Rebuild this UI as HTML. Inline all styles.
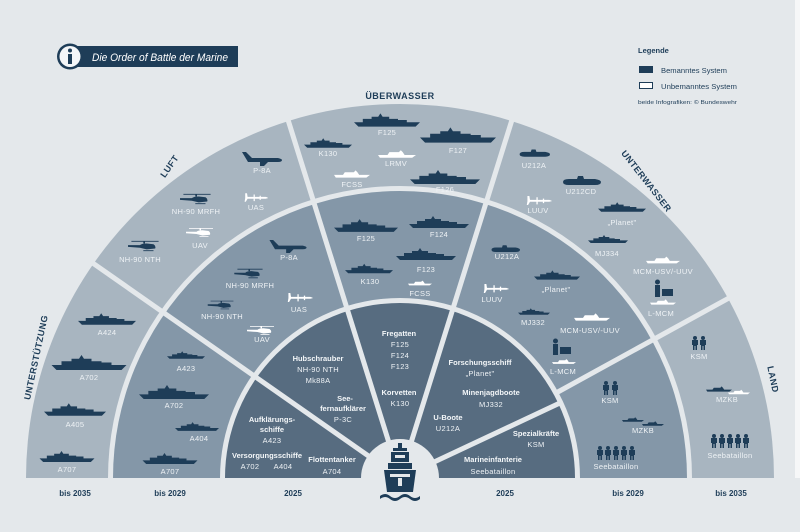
<!DOCTYPE html>
<html><head><meta charset="utf-8"><style>
html,body{margin:0;padding:0;background:#e4e8eb;overflow:hidden;width:800px;height:532px;}
svg{display:block;}
text{font-family:"Liberation Sans",sans-serif;}
.w{fill:#eef2f5;font-size:7.5px;text-anchor:middle;letter-spacing:0.3px;}
.b{fill:#f3f6f8;font-size:7.5px;font-weight:bold;text-anchor:middle;}
.h{fill:#1e3d58;font-size:9px;font-weight:bold;text-anchor:middle;letter-spacing:0.5px;}
.y{fill:#1e3d58;font-size:8px;font-weight:bold;text-anchor:middle;}
</style></head><body>
<svg width="800" height="532" viewBox="0 0 800 532" xmlns="http://www.w3.org/2000/svg" style="position:absolute;left:0;top:0;overflow:hidden">
<defs>
<symbol id="ship" viewBox="0 0 60 12"><path d="M0 8L60 8L56 12L4 12Z M8 8L8 5L16 5L16 3L22 3L24 0L26 3L32 3L32 5L40 5L40 6L48 6L48 8Z"/></symbol>
<symbol id="sub" viewBox="0 0 40 10"><path d="M2 6Q2 3 8 3L16 3L17 0L22 0L23 3L34 3Q40 4 40 6Q40 9 34 9L8 9Q2 9 2 6Z"/></symbol>
<symbol id="plane" viewBox="0 0 40 14"><path d="M0 0L4 0L10 6L36 6Q40 7 40 8Q40 10 36 10L6 10Z M18 10L26 10L22 14L18 14Z"/></symbol>
<symbol id="heli" viewBox="0 0 40 14"><path d="M4 1L36 1L36 2L4 2Z M18 2L20 2L20 4L18 4Z M0 6L14 6Q16 4 22 4L30 5Q33 7 32 10L22 11L14 9L0 8Z M18 12L30 12L30 13L18 13Z"/></symbol>
<symbol id="uas" viewBox="0 0 40 14"><path d="M2 0L5 0L6 6L36 6Q40 7 40 8L36 9L6 9L3 14L1 14L2 8Z M16 2L18 2L18 13L16 13Z M26 4L28 4L28 11L26 11Z"/></symbol>
<symbol id="sold" viewBox="0 0 6 14"><circle cx="3" cy="2" r="2"/><path d="M0 4L6 4L6 9L5 9L5 14L3.5 14L3.5 10L2.5 10L2.5 14L1 14L1 9L0 9Z"/></symbol>
<symbol id="boat" viewBox="0 0 40 8"><path d="M0 5L40 5L36 8L2 8Z M10 5L12 2L22 2L24 0L26 2L28 5Z"/></symbol>
</defs>
<rect width="800" height="532" fill="#e4e8eb"/>
<rect x="795" y="0" width="5" height="532" fill="#f6f7f8"/>
<circle cx="400" cy="478" r="374" fill="#a8b5c0"/>
<circle cx="400" cy="478" r="292" fill="#e4e8eb"/>
<circle cx="400" cy="478" r="287" fill="#8497a8"/>
<circle cx="400" cy="478" r="180" fill="#e4e8eb"/>
<circle cx="400" cy="478" r="175" fill="#576c80"/>
<circle cx="400" cy="478" r="39" fill="#e4e8eb"/>
<g stroke="#e4e8eb" stroke-width="5">
<line x1="400" y1="478" x2="-6" y2="194"/>
<line x1="400" y1="478" x2="279" y2="91"/>
<line x1="400" y1="478" x2="521" y2="91"/>
<line x1="556" y1="393" x2="780" y2="270"/>
<line x1="400" y1="478" x2="562" y2="402"/>
</g>
<rect x="0" y="478" width="800" height="54" fill="#e4e8eb"/>
<g fill="#1e3d58">
<rect x="398" y="443" width="4" height="8"/><rect x="393" y="448" width="14" height="3"/>
<rect x="391" y="452" width="18" height="10"/><rect x="388" y="463" width="24" height="6"/>
<path d="M384 470L416 470L413 492L387 492Z"/>
<path d="M380 496Q385 492 390 496Q395 500 400 496Q405 492 410 496Q415 500 420 496L420 499Q415 503 410 499Q405 495 400 499Q395 503 390 499Q385 495 380 499Z"/>
</g>
<g fill="#e4e8eb"><rect x="395" y="455" width="10" height="3"/><rect x="390" y="474" width="20" height="3"/><rect x="398" y="478" width="4" height="8"/></g>
<text class="y" x="75" y="496">bis 2035</text>
<text class="y" x="170" y="496">bis 2029</text>
<text class="y" x="293" y="496">2025</text>
<text class="y" x="505" y="496">2025</text>
<text class="y" x="628" y="496">bis 2029</text>
<text class="y" x="731" y="496">bis 2035</text>
<rect x="75" y="46" width="163" height="21" fill="#1e3d58"/>
<circle cx="70" cy="56.5" r="13" fill="#1e3d58"/><circle cx="70" cy="56.5" r="10.5" fill="#f4f6f8"/>
<rect x="68" y="54" width="4" height="10" fill="#1e3d58"/><circle cx="70" cy="50.5" r="2" fill="#1e3d58"/>
<text x="92" y="61" fill="#fff" font-size="11" font-style="italic" textLength="136" lengthAdjust="spacingAndGlyphs">Die Order of Battle der Marine</text>
<text x="638" y="53" fill="#1e3d58" font-size="7.5" font-weight="bold">Legende</text>
<rect x="639" y="66" width="14" height="7" fill="#1e3d58"/>
<text x="661" y="73" fill="#1e3d58" font-size="7.5" textLength="66" lengthAdjust="spacingAndGlyphs">Bemanntes System</text>
<rect x="639.5" y="82.5" width="13" height="6" fill="#fff" stroke="#1e3d58"/>
<text x="661" y="89" fill="#1e3d58" font-size="7.5" textLength="76" lengthAdjust="spacingAndGlyphs">Unbemanntes System</text>
<text x="638" y="104" fill="#1e3d58" font-size="5.5" textLength="99" lengthAdjust="spacingAndGlyphs">beide Infografiken: © Bundeswehr</text>
<text class="h" x="400" y="99">ÜBERWASSER</text>
<text class="h" transform="translate(172,168) rotate(-55)">LUFT</text>
<text class="h" transform="translate(644,183) rotate(52)">UNTERWASSER</text>
<text class="h" transform="translate(39,358) rotate(-78)">UNTERSTÜTZUNG</text>
<text class="h" transform="translate(770,380) rotate(78)">LAND</text>
<g fill="#1e3d58">
<use href="#ship" x="354" y="113" width="66" height="14"/>
<use href="#ship" x="304" y="138" width="48" height="10"/>
<use href="#ship" x="420" y="127" width="76" height="16"/>
<use href="#ship" x="408" y="170" width="74" height="14"/>
</g>
<g fill="#fff"><use href="#boat" x="378" y="150" width="38" height="8"/><use href="#boat" x="334" y="170" width="36" height="8"/></g>
<text class="w" x="387" y="135">F125</text><text class="w" x="328" y="156">K130</text>
<text class="w" x="458" y="153">F127</text><text class="w" x="396" y="166">LRMV</text>
<text class="w" x="352" y="187">FCSS</text><text class="w" x="445" y="192">F126</text>
<g fill="#1e3d58">
<use href="#plane" x="240" y="152" width="44" height="14"/>
<use href="#heli" x="180" y="193" width="34" height="12"/>
<use href="#heli" x="128" y="240" width="34" height="12"/>
</g>
<g fill="#fff"><use href="#uas" x="244" y="193" width="24" height="9"/><use href="#heli" x="186" y="227" width="30" height="11"/></g>
<text class="w" x="262" y="173">P-8A</text><text class="w" x="196" y="214">NH-90 MRFH</text>
<text class="w" x="256" y="210">UAS</text><text class="w" x="200" y="248">UAV</text>
<text class="w" x="140" y="262">NH-90 NTH</text>
<g fill="#1e3d58">
<use href="#sub" x="518" y="149" width="32" height="9"/>
<use href="#sub" x="559" y="176" width="44" height="10"/>
<use href="#ship" x="598" y="200" width="48" height="14"/>
<use href="#ship" x="588" y="233" width="40" height="12"/>
<rect x="655" y="285" width="5" height="12"/><circle cx="657.5" cy="282" r="2.5"/><rect x="662" y="289" width="11" height="7"/>
</g>
<g fill="#fff"><use href="#uas" x="522" y="196" width="34" height="9"/><use href="#boat" x="646" y="256" width="34" height="8"/><use href="#boat" x="650" y="299" width="26" height="6"/></g>
<text class="w" x="534" y="168">U212A</text><text class="w" x="581" y="194">U212CD</text>
<text class="w" x="538" y="213">LUUV</text><text class="w" x="622" y="225">„Planet"</text>
<text class="w" x="607" y="256">MJ334</text><text class="w" x="663" y="274">MCM-USV/-UUV</text>
<text class="w" x="661" y="316">L-MCM</text>
<g fill="#1e3d58">
<use href="#sold" x="692" y="336" width="6" height="14"/><use href="#sold" x="700" y="336" width="6" height="14"/>
<use href="#sold" x="711" y="434" width="6" height="14"/><use href="#sold" x="719" y="434" width="6" height="14"/><use href="#sold" x="727" y="434" width="6" height="14"/><use href="#sold" x="735" y="434" width="6" height="14"/><use href="#sold" x="743" y="434" width="6" height="14"/>
<use href="#boat" x="706" y="386" width="26" height="6"/>
</g>
<use href="#boat" x="728" y="389" width="22" height="6" fill="#fff"/>
<text class="w" x="699" y="359">KSM</text><text class="w" x="727" y="402">MZKB</text>
<text class="w" x="730" y="458">Seebataillon</text>
<g fill="#1e3d58">
<use href="#ship" x="78" y="313" width="58" height="12"/>
<use href="#ship" x="50" y="355" width="78" height="15"/>
<use href="#ship" x="44" y="403" width="62" height="13"/>
<use href="#ship" x="29" y="451" width="76" height="11"/>
</g>
<text class="w" x="107" y="335">A424</text><text class="w" x="89" y="380">A702</text>
<text class="w" x="75" y="427">A405</text><text class="w" x="67" y="472">A707</text>
<g fill="#1e3d58">
<use href="#ship" x="167" y="350" width="38" height="10"/>
<use href="#ship" x="135" y="385" width="78" height="14"/>
<use href="#ship" x="175" y="421" width="44" height="11"/>
<use href="#ship" x="132" y="453" width="76" height="11"/>
</g>
<text class="w" x="186" y="371">A423</text><text class="w" x="174" y="408">A702</text>
<text class="w" x="199" y="441">A404</text><text class="w" x="170" y="474">A707</text>
<g fill="#1e3d58">
<use href="#plane" x="268" y="240" width="40" height="13"/>
<use href="#heli" x="233" y="268" width="34" height="11"/>
<use href="#heli" x="205" y="300" width="34" height="10"/>
</g>
<g fill="#fff"><use href="#uas" x="287" y="293" width="26" height="9"/><use href="#heli" x="247" y="325" width="30" height="11"/></g>
<text class="w" x="289" y="260">P-8A</text><text class="w" x="250" y="288">NH-90 MRFH</text>
<text class="w" x="299" y="312">UAS</text><text class="w" x="222" y="319">NH-90 NTH</text>
<text class="w" x="262" y="342">UAV</text>
<g fill="#1e3d58">
<use href="#ship" x="334" y="219" width="64" height="13"/>
<use href="#ship" x="408" y="216" width="62" height="12"/>
<use href="#ship" x="345" y="263" width="48" height="11"/>
<use href="#ship" x="396" y="248" width="60" height="12"/>
</g>
<use href="#boat" x="408" y="280" width="24" height="6" fill="#fff"/>
<text class="w" x="366" y="241">F125</text><text class="w" x="439" y="237">F124</text>
<text class="w" x="370" y="284">K130</text><text class="w" x="426" y="272">F123</text>
<text class="w" x="420" y="296">FCSS</text>
<g fill="#1e3d58">
<use href="#sub" x="490" y="245" width="30" height="8"/>
<use href="#ship" x="534" y="268" width="46" height="14"/>
<use href="#ship" x="518" y="307" width="32" height="9"/>
<rect x="553" y="344" width="5" height="11"/><circle cx="555.5" cy="341" r="2.5"/><rect x="560" y="347" width="11" height="7"/>
</g>
<g fill="#fff"><use href="#uas" x="480" y="284" width="32" height="9"/><use href="#boat" x="574" y="313" width="36" height="8"/><use href="#boat" x="552" y="359" width="24" height="5"/></g>
<text class="w" x="507" y="259">U212A</text><text class="w" x="492" y="302">LUUV</text>
<text class="w" x="556" y="292">„Planet"</text><text class="w" x="533" y="325">MJ332</text>
<text class="w" x="590" y="333">MCM-USV/-UUV</text><text class="w" x="563" y="374">L-MCM</text>
<g fill="#1e3d58">
<use href="#sold" x="603" y="381" width="6" height="14"/><use href="#sold" x="612" y="381" width="6" height="14"/>
<use href="#sold" x="597" y="446" width="6" height="14"/><use href="#sold" x="605" y="446" width="6" height="14"/><use href="#sold" x="613" y="446" width="6" height="14"/><use href="#sold" x="621" y="446" width="6" height="14"/><use href="#sold" x="629" y="446" width="6" height="14"/>
<use href="#boat" x="622" y="417" width="22" height="5"/><use href="#boat" x="642" y="421" width="22" height="5"/>
</g>
<text class="w" x="610" y="403">KSM</text><text class="w" x="643" y="433">MZKB</text>
<text class="w" x="616" y="469">Seebataillon</text>
<text class="b" x="318" y="361">Hubschrauber</text><text class="w" x="318" y="372">NH-90 NTH</text><text class="w" x="318" y="383">Mk88A</text>
<text class="b" x="345" y="401">See-</text><text class="b" x="343" y="411">fernaufklärer</text><text class="w" x="343" y="422">P-3C</text>
<text class="b" x="272" y="422">Aufklärungs-</text><text class="b" x="272" y="432">schiffe</text><text class="w" x="272" y="443">A423</text>
<text class="b" x="267" y="458">Versorgungsschiffe</text><text class="w" x="250" y="469">A702</text><text class="w" x="283" y="469">A404</text>
<text class="b" x="332" y="462">Flottentanker</text><text class="w" x="332" y="474">A704</text>
<text class="b" x="399" y="336">Fregatten</text><text class="w" x="400" y="347">F125</text><text class="w" x="400" y="358">F124</text><text class="w" x="400" y="369">F123</text>
<text class="b" x="399" y="395">Korvetten</text><text class="w" x="400" y="406">K130</text>
<text class="b" x="480" y="365">Forschungsschiff</text><text class="w" x="480" y="376">„Planet"</text>
<text class="b" x="491" y="395">Minenjagdboote</text><text class="w" x="491" y="407">MJ332</text>
<text class="b" x="448" y="420">U-Boote</text><text class="w" x="448" y="431">U212A</text>
<text class="b" x="536" y="436">Spezialkräfte</text><text class="w" x="536" y="447">KSM</text>
<text class="b" x="493" y="462">Marineinfanterie</text><text class="w" x="493" y="474">Seebataillon</text>
</svg>
</body></html>
